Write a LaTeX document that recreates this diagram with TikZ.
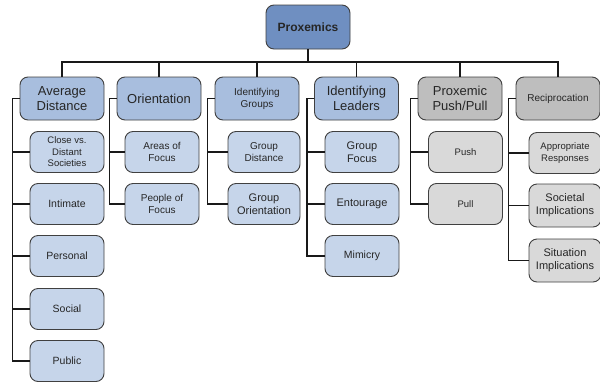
\documentclass[tikz,border=0pt]{standalone}
\usepackage{fontspec}
\setmainfont{Liberation Sans}
\definecolor{rootblue}{RGB}{111,143,193}
\definecolor{headblue}{RGB}{168,190,222}
\definecolor{leafblue}{RGB}{198,213,234}
\definecolor{headgray}{RGB}{190,190,190}
\definecolor{leafgray}{RGB}{217,217,217}
\definecolor{edgegray}{RGB}{64,64,64}
\begin{document}
\begin{tikzpicture}[x=1pt, y=-1pt,
    box/.style={draw=edgegray, line width=0.9pt, rounded corners=8pt, align=center, inner sep=1pt, text=black!85},
    rootbox/.style={box, fill=rootblue, minimum width=84pt, minimum height=44pt, font=\fontsize{12}{14}\selectfont\bfseries},
    headbox/.style={box, fill=headblue, minimum width=84pt, minimum height=43pt, font=\fontsize{13}{14.5}\selectfont},
    leafbox/.style={box, fill=leafblue, minimum width=74pt, minimum height=41pt, font=\fontsize{10.5}{12.5}\selectfont},
    small/.style={font=\fontsize{10}{12}\selectfont},
    tiny/.style={font=\fontsize{9.5}{11.5}\selectfont},
    link/.style={draw=black!90, line width=1.4pt}]
    \useasboundingbox (0,0) rectangle (600,381);

    % Root
    \node[rootbox] (root) at (308,27) {Proxemics};
    \coordinate (bus) at (0,62);

    % Average Distance
    \node[headbox] (ad) at (62,98.5) {Average\\Distance};
    \node[leafbox, tiny] (ad1) at (67,152) {Close vs.\\Distant\\Societies};
    \node[leafbox] (ad2) at (67,204) {Intimate};
    \node[leafbox] (ad3) at (67,256) {Personal};
    \node[leafbox] (ad4) at (67,309) {Social};
    \node[leafbox] (ad5) at (67,361) {Public};

    % Orientation
    \node[headbox] (or) at (159,98.5) {Orientation};
    \node[leafbox, small] (or1) at (162,152) {Areas of\\Focus};
    \node[leafbox, small] (or2) at (162,204) {People of\\Focus};

    % Identifying Groups
    \node[headbox, small] (ig) at (257,98.5) {Identifying\\Groups};
    \node[leafbox, small, minimum width=72pt] (ig1) at (264,152) {Group\\Distance};
    \node[leafbox, font=\fontsize{11}{13}\selectfont, minimum width=72pt] (ig2) at (264,204) {Group\\Orientation};

    % Identifying Leaders
    \node[headbox] (il) at (356.5,98.5) {Identifying\\Leaders};
    \node[leafbox, font=\fontsize{11}{13}\selectfont] (il1) at (362,152) {Group\\Focus};
    \node[leafbox, font=\fontsize{11}{13}\selectfont] (il2) at (362,204) {Entourage};
    \node[leafbox] (il3) at (362,256) {Mimicry};

    % Proxemic Push/Pull
    \node[headbox, fill=headgray] (pp) at (460,98.5) {Proxemic\\Push/Pull};
    \node[leafbox, fill=leafgray, tiny] (pp1) at (465.5,152) {Push};
    \node[leafbox, fill=leafgray, tiny] (pp2) at (465.5,204) {Pull};

    % Reciprocation
    \node[headbox, fill=headgray, small] (re) at (558,98.5) {Reciprocation};
    \node[leafbox, fill=leafgray, tiny, minimum width=72pt] (re1) at (565,153) {Appropriate\\Responses};
    \node[leafbox, fill=leafgray, font=\fontsize{11}{13}\selectfont, minimum width=72pt, minimum height=43pt] (re2) at (565,205.5) {Societal\\Implications};
    \node[leafbox, fill=leafgray, font=\fontsize{11}{13}\selectfont, minimum width=72pt, minimum height=43pt] (re3) at (565,260.5) {Situation\\Implications};

    % Links to the root
    \foreach \h in {ad,or,ig,il,pp,re}
        \draw[link] (root.south) -- (root |- bus) -| (\h.north);

    % Links to the leaves
    \foreach \h/\n in {ad/5,or/2,ig/2,il/3,pp/2,re/3}
        \foreach \i in {1,...,\n}
            \draw[link] (\h.west) -- ++(-7,0) |- (\h\i.west);
\end{tikzpicture}
\end{document}
